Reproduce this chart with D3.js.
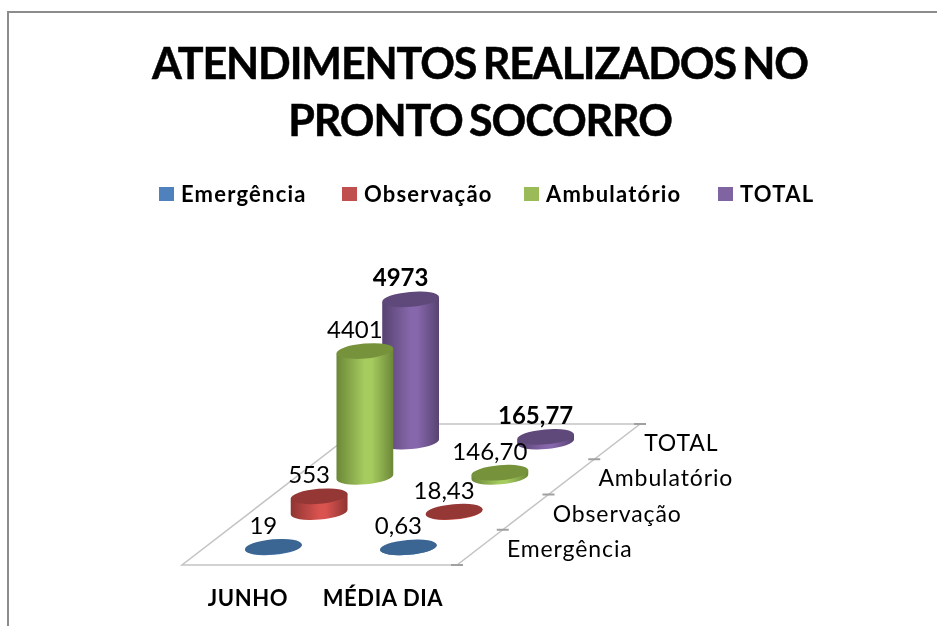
<!DOCTYPE html>
<html lang="pt">
<head>
<meta charset="utf-8">
<script src="https://cdn.jsdelivr.net/npm/d3@7/dist/d3.min.js"></script>
<style>
html,body{margin:0;padding:0;background:#fff;overflow:hidden}
svg{display:block;filter:blur(0.45px)}
text{font-family:Lato,"Open Sans",sans-serif;fill:#000}
</style>
</head>
<body>
<svg id="chart" width="937" height="626"></svg>
<script>
const titleLines = ["ATENDIMENTOS REALIZADOS NO", "PRONTO SOCORRO"];
const categories = ["JUNHO", "MÉDIA DIA"];
const seriesNames = ["Emergência", "Observação", "Ambulatório", "TOTAL"];
const emergencia = [19, 0.63];
const observacao = [553, 18.43];
const ambulatorio = [4401, 146.70];
const total = [4973, 165.77];
const seriesValues = [emergencia, observacao, ambulatorio, total];
const legendColors = ["#4f81bd", "#c0504d", "#9bbb59", "#8064a2"];
const topColors = ["#3b6593", "#953735", "#76933c", "#5f497a"];
const lightColors = ["#4f81bd", "#d9534f", "#a6cc60", "#8767ac"];
const darkColors = ["#355a85", "#8f3533", "#6c8737", "#574370"];
const boldSeries = ["TOTAL"];

const svg = d3.select("#chart");
const W = 937, H = 626;

// frame
svg.append("path")
  .attr("d", d3.line()([[8, H], [8, 12], [W, 12]]))
  .attr("fill", "none").attr("stroke", "#8c8c8c").attr("stroke-width", 2);

// title
svg.selectAll("text.title").data(titleLines).join("text")
  .attr("class", "title")
  .attr("x", 480)
  .attr("y", (d, i) => 79 + i * 57)
  .attr("text-anchor", "middle")
  .attr("font-size", 43)
  .attr("font-weight", 700)
  .attr("letter-spacing", -1.1)
  .attr("word-spacing", -3)
  .attr("stroke", "#000").attr("stroke-width", 0.5)
  .text(d => d);

// legend
const legendOffsets = [159, 342, 524, 718];
const legendG = svg.selectAll("g.leg").data(seriesNames).join("g")
  .attr("class", "leg")
  .attr("transform", (d, i) => `translate(${legendOffsets[i]},194)`);
legendG.append("rect").attr("x", 0).attr("y", -7).attr("width", 15).attr("height", 14)
  .attr("fill", (d, i) => legendColors[i]);
legendG.append("text").attr("x", 22).attr("y", 8)
  .attr("font-size", 22).attr("font-weight", 700).attr("letter-spacing", 1.2).text(d => d);

// oblique 3D projection from scales
const xEdge = d3.scaleLinear().domain([0, 1]).range([0, 275]);
const xCenter = d3.scalePoint().domain(categories).range([68.5, 203.5]);
const zX = d3.scaleLinear().domain([0, seriesNames.length]).range([0, 183]);
const zY = d3.scaleLinear().domain([0, seriesNames.length]).range([0, -141]);
const yScale = d3.scaleLinear().domain([0, 5000]).range([0, 143]);
const origin = [182, 565];
const project = (xPx, s, v = 0) => [
  origin[0] + xPx + zX(s),
  origin[1] + zY(s) - yScale(v)
];

// floor
const floorG = svg.append("g");
floorG.append("path")
  .attr("d", d3.line()([project(xEdge(0), 0), project(xEdge(1), 0), project(xEdge(1), 4), project(xEdge(0), 4)]) + "Z")
  .attr("fill", "#fff").attr("stroke", "#c4c4c4").attr("stroke-width", 1.5);
d3.range(0, 5).forEach(s => {
  const p = project(xEdge(1), s);
  floorG.append("line")
    .attr("x1", p[0] - 6).attr("x2", p[0] + 6).attr("y1", p[1]).attr("y2", p[1])
    .attr("stroke", "#a0a0a0").attr("stroke-width", 2);
});

// gradients
const defs = svg.append("defs");
seriesNames.forEach((n, i) => {
  const g = defs.append("linearGradient").attr("id", "side" + i)
    .attr("x1", 0).attr("x2", 1).attr("y1", 0).attr("y2", 0);
  [[0, darkColors[i]], [0.5, lightColors[i]], [0.62, lightColors[i]], [1, darkColors[i]]]
    .forEach(([o, c]) => g.append("stop").attr("offset", o).attr("stop-color", c));
});

// cylinders back to front
const rx = 28.5, ry = 7.5, tilt = -5;
const cos = Math.cos(tilt * Math.PI / 180), sin = Math.sin(tilt * Math.PI / 180);
const marks = [];
d3.range(seriesNames.length - 1, -1, -1).forEach(s => {
  categories.forEach((c, ci) => marks.push({ s, c, ci, v: seriesValues[s][ci] }));
});
const fmtInt = d3.format("d");
const locale = d3.formatLocale({ decimal: ",", thousands: ".", grouping: [3], currency: ["R$", ""] });
const fmtDec = locale.format(".2f");

const cyl = svg.selectAll("g.cyl").data(marks).join("g").attr("class", "cyl");
cyl.each(function (d) {
  const g = d3.select(this);
  const [bx, by] = project(xCenter(d.c), d.s + 0.5);
  const ty = project(xCenter(d.c), d.s + 0.5, d.v)[1];
  const lx = bx - rx * cos, rxx = bx + rx * cos, ldy = -rx * sin;
  g.append("path")
    .attr("d", `M${lx},${ty + ldy}L${lx},${by + ldy}A${rx},${ry} ${tilt} 0 0 ${rxx},${by - ldy}L${rxx},${ty - ldy}Z`)
    .attr("fill", `url(#side${d.s})`);
  g.append("ellipse")
    .attr("cx", bx).attr("cy", ty).attr("rx", rx).attr("ry", ry)
    .attr("transform", `rotate(${tilt} ${bx} ${ty})`)
    .attr("fill", topColors[d.s]);
});

// value labels, drawn above all cylinders
svg.selectAll("text.val").data(marks).join("text")
  .attr("class", "val")
  .attr("x", d => project(xCenter(d.c), d.s + 0.5, d.v)[0] - 10)
  .attr("y", d => project(xCenter(d.c), d.s + 0.5, d.v)[1] - 13)
  .attr("text-anchor", "middle")
  .attr("font-size", 24)
  .attr("font-weight", d => boldSeries.includes(seriesNames[d.s]) ? 700 : 400)
  .attr("fill", "#1a1a1a")
  .text(d => d.ci === 0 ? fmtInt(d.v) : fmtDec(d.v));

// depth axis labels
svg.selectAll("text.depth").data(seriesNames).join("text")
  .attr("class", "depth")
  .attr("x", (d, i) => project(xEdge(1), i + 0.5)[0] + 27)
  .attr("y", (d, i) => project(xEdge(1), i + 0.5)[1] + 9.5)
  .attr("font-size", 23).attr("letter-spacing", 0.9).attr("fill", "#262626")
  .text(d => d);

// category labels
svg.selectAll("text.cat").data(categories).join("text")
  .attr("class", "cat")
  .attr("x", d => project(xCenter(d), 0)[0] - 2.5)
  .attr("y", 606)
  .attr("text-anchor", "middle")
  .attr("font-size", 22).attr("font-weight", 700).attr("letter-spacing", 0.6)
  .text(d => d);
</script>
</body>
</html>
